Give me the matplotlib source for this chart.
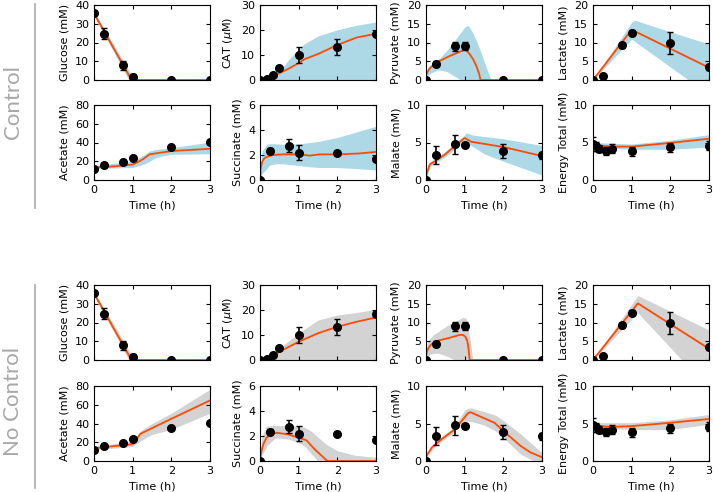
import matplotlib
matplotlib.use("Agg")
import matplotlib.pyplot as plt
from matplotlib.lines import Line2D

# ---- observed data (same experiment for both model variants) ----
t_obs = [0, 0.25, 0.75, 1, 2, 3]
glc = [36, 24.8, 7.8, 1.8, 0.2, 0.2]
glc_err = [0.8, 3.0, 2.5, 1.2, 0.3, 0.2]
cat_t = [0, 0.17, 0.33, 0.5, 1, 2, 3]
cat = [0.1, 0.6, 2.1, 5.0, 9.9, 13.2, 18.3]
cat_err = [0.1, 0.3, 0.5, 0.8, 3.2, 3.3, 0.8]
pyr = [0, 4.4, 9.0, 9.0, 0, 0]
pyr_err = [0.1, 0.6, 1.2, 1.1, 0.1, 0.1]
lac = [0, 1.1, 9.3, 12.6, 9.9, 3.5]
lac_err = [0.1, 0.5, 0.7, 0.7, 3.0, 0.8]
ace = [12, 15.5, 19, 24, 35, 40.5]
ace_err = [1.5, 1.5, 1.5, 2.0, 1.5, 1.5]
suc = [0, 2.35, 2.75, 2.2, 2.2, 1.65]
suc_err = [0.02, 0.2, 0.5, 0.6, 0.1, 0.1]
mal = [0, 3.3, 4.75, 4.7, 3.85, 3.3]
mal_err = [0.1, 1.2, 1.3, 0.3, 0.9, 0.5]
en_t = [0, 0.083, 0.167, 0.33, 0.5, 1, 2, 3]
en = [4.8, 4.5, 4.2, 3.9, 4.2, 3.85, 4.4, 4.6]
en_err = [0.9, 0.6, 0.5, 0.5, 0.6, 0.6, 0.6, 0.6]

# ---- model fits, Control ----
c_glc_t = [0, 0.9, 0.97, 1.05, 3]
c_glc = [35.5, 2.6, 0, 0, 0]
c_glc_lo = [34.5, 0, 0, 0, 0]
c_glc_hi = [36.5, 5.2, 2.8, 0, 0]

c_cat_ft = [0, 0.25, 0.38, 0.5, 0.75, 1, 1.15, 1.5, 2, 2.5, 3]
c_cat = [0, 0.7, 1.7, 2.7, 4.6, 6.8, 8.3, 10.4, 14, 17.0, 18.5]
c_cat_lo = [0] * 11
c_cat_hi = [0, 0, 0.3, 3.0, 8.4, 12.3, 14.5, 17.6, 20.1, 21.9, 23.2]

c_pyr_ft = [0, 0.005, 0.02, 0.05, 0.1, 0.23, 0.4, 0.57, 0.8, 1.0, 1.05, 1.13, 1.22, 1.3, 1.37, 1.41, 3]
c_pyr = [0, 1.0, 1.7, 2.4, 3.1, 4.4, 5.3, 6.2, 7.2, 8.1, 7.8, 6.9, 5.5, 3.8, 1.8, 0, 0]
c_pyr_bt = [0, 0.04, 0.15, 0.32, 0.35, 0.55, 0.74, 0.9, 1.0, 1.09, 1.2, 1.34, 1.45, 1.56, 1.68, 3]
c_pyr_lo = [0, 1.2, 2.0, 2.7, 2.7, 2.2, 1.0, 0, 0, 0, 0, 0, 0, 0, 0, 0]
c_pyr_hi = [0, 3.3, 4.3, 5.6, 5.8, 8.0, 10.5, 12.7, 14.1, 14.6, 12.8, 9.6, 6.5, 3.3, 0, 0]

c_lac_ft = [0, 1.0, 3]
c_lac = [0, 13.4, 3.3]
c_lac_bt = [0, 1.0, 1.09, 2.47, 3]
c_lac_lo = [0, 10.9, 10.2, 0, 0]
c_lac_hi = [0, 15.4, 15.9, 11.3, 9.6]

c_ace_ft = [0, 0.5, 1.0, 1.15, 1.26, 1.44, 2.0, 3]
c_ace = [13.3, 14.5, 16.5, 19.5, 22, 27.4, 30.9, 33.3]
c_ace_bt = [0, 1.0, 1.3, 1.44, 1.6, 2.0, 3]
c_ace_lo = [12.3, 13.3, 17, 20, 24, 27.4, 28]
c_ace_hi = [15.5, 20, 27, 31, 32.5, 34.4, 40.4]

c_suc_ft = [0, 0.02, 0.05, 0.1, 0.17, 0.34, 0.6, 1.03, 1.28, 1.54, 2, 2.56, 3]
c_suc = [0, 0.9, 1.4, 1.7, 1.85, 2.0, 2.05, 2.05, 1.95, 2.05, 2.05, 2.12, 2.25]
c_suc_bt = [0, 0.05, 0.17, 0.25, 0.4, 0.6, 1.03, 1.3, 1.54, 2, 2.56, 3]
c_suc_lo = [0, 0.5, 0.9, 1.2, 1.3, 1.3, 1.15, 1.05, 1.0, 1.0, 0.9, 0.8]
c_suc_hi = [0, 2.3, 2.84, 2.9, 2.9, 2.85, 2.9, 3.0, 3.1, 3.4, 3.9, 4.3]

c_mal_ft = [0, 0.01, 0.04, 0.1, 0.23, 0.49, 0.74, 1.0, 1.17, 2.0, 3]
c_mal = [0, 0.6, 1.2, 2.1, 2.5, 3.4, 4.5, 5.6, 5.1, 4.4, 3.2]
c_mal_bt = [0, 0.1, 0.5, 1.0, 1.04, 1.2, 1.5, 2.0, 3]
c_mal_lo = [0, 1.8, 3.1, 5.1, 4.9, 4.5, 3.5, 2.5, 0.66]
c_mal_hi = [0, 2.4, 3.8, 6.0, 6.3, 6.0, 5.8, 5.5, 4.6]

c_en_ft = [0, 0.5, 1, 2, 3]
c_en = [4.65, 4.45, 4.45, 4.95, 5.5]
c_en_bt = [0, 1, 2, 3]
c_en_lo = [4.3, 4.1, 4.1, 4.4]
c_en_hi = [5.0, 4.8, 5.3, 6.05]

# ---- model fits, No Control ----
n_cat_ft = [0, 0.2, 0.5, 1, 1.5, 2, 2.5, 3]
n_cat = [0, 0.3, 3.3, 7.3, 10.7, 13.3, 15.3, 17.0]
n_cat_lo = [0] * 8
n_cat_hi = [0, 1.5, 4.7, 10.7, 16, 18, 19, 20.3]

n_pyr_ft = [0, 0.005, 0.02, 0.04, 0.08, 0.15, 0.32, 0.57, 0.87, 0.95, 1.02, 1.07, 1.1, 1.13, 3]
n_pyr = [0, 1.2, 2.0, 2.7, 3.5, 4.3, 5.2, 5.8, 6.7, 6.7, 6.2, 5.0, 3.0, 0, 0]
n_pyr_bt = [0, 0.04, 0.1, 0.2, 0.32, 0.35, 0.55, 0.74, 0.96, 1.04, 1.13, 1.21, 3]
n_pyr_lo = [0, 0.8, 1.5, 1.8, 1.8, 1.7, 1.0, 0, 0, 0, 0, 0, 0]
n_pyr_hi = [0, 4.9, 5.8, 6.8, 7.6, 7.8, 9.2, 10.2, 11.4, 11.1, 6.2, 0, 0]

n_lac_ft = [0, 1.16, 3]
n_lac = [0, 15.1, 3.0]
n_lac_bt = [0, 1.16, 2.3, 3]
n_lac_lo = [0, 12.6, 0, 0]
n_lac_hi = [0, 17.2, 11.5, 8.0]

n_ace_ft = [0, 1.0, 1.1, 1.2, 2, 3]
n_ace = [13.7, 17.9, 23, 29, 45, 64.6]
n_ace_bt = [0, 1.0, 1.2, 1.5, 2, 3]
n_ace_lo = [12, 15.4, 21.4, 28.4, 33.7, 51]
n_ace_hi = [15.4, 21.4, 32, 40, 51, 76.5]

n_suc_ft = [0, 0.02, 0.04, 0.085, 0.17, 0.3, 0.43, 0.73, 0.98, 1.2, 1.41, 1.74, 3]
n_suc = [0, 0.5, 0.8, 1.34, 1.87, 2.13, 2.26, 2.13, 1.87, 1.66, 0.95, 0, 0]
n_suc_bt = [0, 0.05, 0.15, 0.17, 0.4, 0.75, 1.0, 1.15, 1.32, 1.5, 1.71, 2.0, 2.44, 3]
n_suc_lo = [0, 0.5, 1.0, 1.2, 1.85, 1.75, 1.45, 1.2, 0.6, 0, 0, 0, 0, 0]
n_suc_hi = [0, 2.0, 2.7, 2.8, 2.84, 2.82, 2.8, 2.7, 2.4, 1.9, 1.34, 0.82, 0.47, 0.29]

n_mal_ft = [0, 0.01, 0.04, 0.15, 0.4, 0.74, 1.09, 1.15, 1.77, 2.0, 2.45, 2.7, 3]
n_mal = [0, 0.5, 0.9, 1.8, 2.9, 4.2, 6.4, 6.5, 5.1, 4.0, 2.0, 1.15, 0.5]
n_mal_bt = [0, 0.15, 0.4, 0.74, 1.0, 1.15, 1.5, 1.8, 2.0, 2.45, 2.8, 3]
n_mal_lo = [0, 1.5, 2.6, 3.9, 5.3, 5.3, 4.8, 4.0, 3.1, 0.9, 0, 0]
n_mal_hi = [0, 2.0, 3.2, 4.6, 6.8, 7.1, 6.6, 6.1, 5.4, 3.6, 2.0, 1.1]

n_en_ft = [0, 0.5, 1, 2, 3]
n_en = [4.7, 4.55, 4.65, 5.1, 5.6]
n_en_bt = [0, 1, 2, 3]
n_en_lo = [4.4, 4.2, 4.2, 4.9]
n_en_hi = [5.1, 5.1, 5.5, 6.2]

ylabels = ["Glucose (mM)", r"CAT ($\mu$M)", "Pyruvate (mM)", "Lactate (mM)",
           "Acetate (mM)", "Succinate (mM)", "Malate (mM)", "Energy Total (mM)"]
ymax = [40, 30, 20, 20, 80, 6, 10, 10]
ystep = [10, 10, 5, 5, 20, 2, 5, 5]

FIT_COLOR = "#ff4a00"
BAND_COLORS = ["#add8e6", "#d3d3d3"]

plt.rcParams["font.size"] = 8
plt.rcParams["xtick.direction"] = "in"
plt.rcParams["ytick.direction"] = "in"
plt.rcParams["xtick.top"] = True
plt.rcParams["ytick.right"] = True
plt.rcParams["xtick.major.size"] = 3
plt.rcParams["ytick.major.size"] = 3

W, H = 713, 492
col_left = [94, 260, 426, 593]
ax_w = 116
row_top = [5, 105, 285, 386]
ax_h = 75


def panel(ax, ot, obs, err, ft, fit, bt, lo, hi, band_color, k, show_x):
    ax.fill_between(bt, lo, hi, color=band_color, lw=0, zorder=1)
    ax.plot(ft, fit, color=FIT_COLOR, lw=1.3, zorder=2)
    ax.errorbar(ot, obs, yerr=err, fmt="o", color="k", ms=5.5, capsize=2,
                elinewidth=1.2, capthick=1.0, zorder=3)
    ax.set_xlim(0, 3)
    ax.set_ylim(0, ymax[k])
    ax.set_xticks([0, 1, 2, 3])
    ax.set_yticks(range(0, ymax[k] + 1, ystep[k]))
    ax.set_ylabel(ylabels[k])
    if show_x:
        ax.set_xlabel("Time (h)")
    else:
        ax.set_xticklabels([])


fig = plt.figure(figsize=(W / 100, H / 100), dpi=100)

ctl = [
    (t_obs, glc, glc_err, c_glc_t, c_glc, c_glc_t, c_glc_lo, c_glc_hi),
    (cat_t, cat, cat_err, c_cat_ft, c_cat, c_cat_ft, c_cat_lo, c_cat_hi),
    (t_obs, pyr, pyr_err, c_pyr_ft, c_pyr, c_pyr_bt, c_pyr_lo, c_pyr_hi),
    (t_obs, lac, lac_err, c_lac_ft, c_lac, c_lac_bt, c_lac_lo, c_lac_hi),
    (t_obs, ace, ace_err, c_ace_ft, c_ace, c_ace_bt, c_ace_lo, c_ace_hi),
    (t_obs, suc, suc_err, c_suc_ft, c_suc, c_suc_bt, c_suc_lo, c_suc_hi),
    (t_obs, mal, mal_err, c_mal_ft, c_mal, c_mal_bt, c_mal_lo, c_mal_hi),
    (en_t, en, en_err, c_en_ft, c_en, c_en_bt, c_en_lo, c_en_hi),
]
noctl = [
    (t_obs, glc, glc_err, c_glc_t, c_glc, c_glc_t, c_glc_lo, c_glc_hi),
    (cat_t, cat, cat_err, n_cat_ft, n_cat, n_cat_ft, n_cat_lo, n_cat_hi),
    (t_obs, pyr, pyr_err, n_pyr_ft, n_pyr, n_pyr_bt, n_pyr_lo, n_pyr_hi),
    (t_obs, lac, lac_err, n_lac_ft, n_lac, n_lac_bt, n_lac_lo, n_lac_hi),
    (t_obs, ace, ace_err, n_ace_ft, n_ace, n_ace_bt, n_ace_lo, n_ace_hi),
    (t_obs, suc, suc_err, n_suc_ft, n_suc, n_suc_bt, n_suc_lo, n_suc_hi),
    (t_obs, mal, mal_err, n_mal_ft, n_mal, n_mal_bt, n_mal_lo, n_mal_hi),
    (en_t, en, en_err, n_en_ft, n_en, n_en_bt, n_en_lo, n_en_hi),
]

for g, spec in enumerate([ctl, noctl]):
    for k, d in enumerate(spec):
        r = 2 * g + k // 4
        c = k % 4
        rect = [col_left[c] / W, 1 - (row_top[r] + ax_h) / H, ax_w / W, ax_h / H]
        ax = fig.add_axes(rect)
        panel(ax, *d, BAND_COLORS[g], k, show_x=(k >= 4))

# group labels with vertical rules
for label, yc, y0, y1 in [("Control", 102, 4, 208), ("No Control", 402, 285, 488)]:
    fig.text(13 / W, 1 - yc / H, label, rotation=90, ha="center", va="center",
             fontsize=16, color="#a8a8a8", fontweight="normal",
             family=["Lato", "DejaVu Sans"])
    fig.add_artist(Line2D([34.5 / W, 34.5 / W], [1 - y0 / H, 1 - y1 / H],
                          color="#aaaaaa", lw=1.2))

fig.savefig("out.png", dpi=100)
